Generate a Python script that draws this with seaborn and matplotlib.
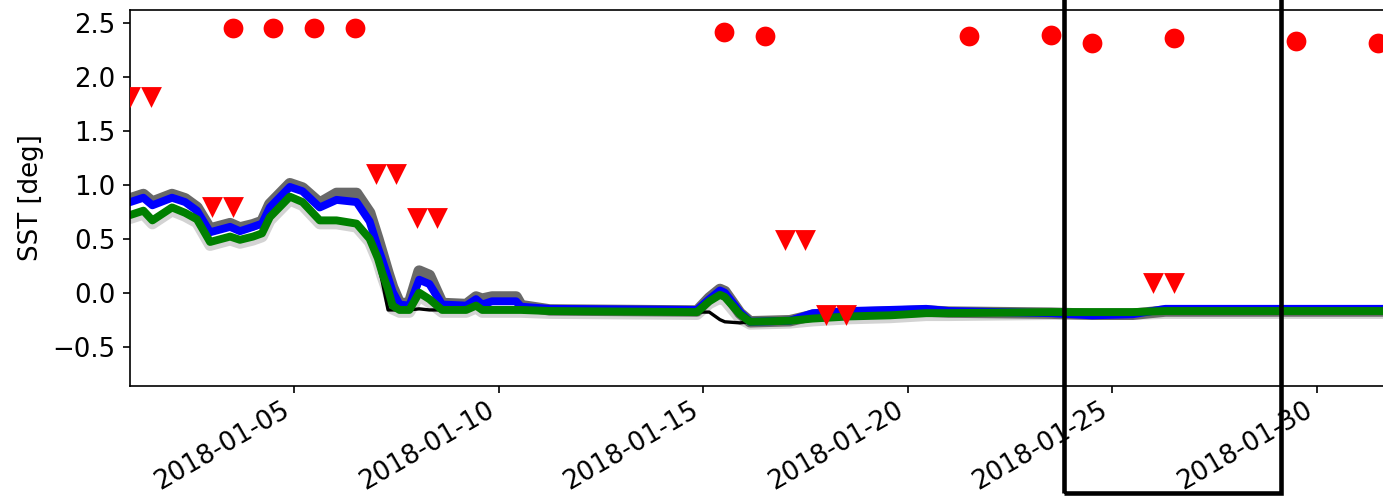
import pandas as pd
import matplotlib
matplotlib.use("Agg")
import matplotlib.pyplot as plt
import matplotlib.dates as mdates
from matplotlib.patches import Rectangle
import seaborn as sns

# Style
sns.set_style("ticks", {"axes.edgecolor": "black", "text.color": "black",
                        "xtick.color": "black", "ytick.color": "black",
                        "axes.labelcolor": "black"})
plt.rcParams['font.family'] = ['DejaVu Sans']
plt.rcParams['font.size'] = 12.5

start = pd.Timestamp("2018-01-01")

# =============================
# Data
# =============================

# time of each sample, days since 2018-01-01
t_days = [0.00, 0.32, 0.54, 1.02, 1.34, 1.63, 1.95, 2.44, 2.68, 3.00,
          3.22, 3.41, 3.90, 4.21, 4.63, 5.04, 5.53, 5.85, 6.05, 6.16,
          6.30, 6.41, 6.58, 6.82, 7.06, 7.31, 7.62, 8.21, 8.45, 8.60,
          8.84, 9.43, 9.55, 10.25, 13.85, 14.15, 14.41, 14.53, 14.90, 15.15,
          16.12, 16.68, 17.59, 18.57, 19.45, 20.00, 22.50, 23.50, 24.50, 25.30,
          31.50]

# ensemble upper envelope (dark grey)
sst_ens_hi = [0.87, 0.91, 0.84, 0.91, 0.87, 0.79, 0.59, 0.64, 0.60, 0.63,
              0.66, 0.82, 1.01, 0.97, 0.83, 0.92, 0.92, 0.74, 0.50, 0.36,
              0.18, 0.05, -0.10, -0.10, 0.20, 0.16, -0.10, -0.11, -0.04, -0.06,
              -0.04, -0.04, -0.12, -0.16, -0.17, -0.05, 0.03, 0.01, -0.19, -0.27,
              -0.26, -0.21, -0.19, -0.18, -0.17, -0.18, -0.19, -0.20, -0.20, -0.17,
              -0.17]

# ensemble lower envelope (light grey)
sst_ens_lo = [0.69, 0.73, 0.64, 0.76, 0.71, 0.65, 0.44, 0.49, 0.46, 0.49,
              0.52, 0.67, 0.86, 0.81, 0.64, 0.64, 0.61, 0.47, 0.29, 0.15,
              0.00, -0.15, -0.18, -0.18, -0.03, -0.09, -0.18, -0.18, -0.14, -0.18,
              -0.18, -0.18, -0.18, -0.19, -0.20, -0.10, -0.05, -0.07, -0.24, -0.29,
              -0.28, -0.26, -0.24, -0.23, -0.21, -0.21, -0.20, -0.20, -0.20, -0.19,
              -0.19]

# reference series (black)
sst_ref = [0.71, 0.75, 0.66, 0.78, 0.73, 0.67, 0.46, 0.51, 0.48, 0.51,
           0.54, 0.69, 0.88, 0.83, 0.66, 0.66, 0.63, 0.50, 0.28, 0.10,
           -0.16, -0.16, -0.16, -0.16, -0.15, -0.16, -0.16, -0.16, -0.13, -0.16,
           -0.16, -0.16, -0.16, -0.17, -0.18, -0.18, -0.25, -0.27, -0.28, -0.27,
           -0.26, -0.24, -0.22, -0.21, -0.19, -0.19, -0.18, -0.18, -0.18, -0.17,
           -0.17]

# model A (blue)
sst_model_a = [0.84, 0.88, 0.81, 0.88, 0.84, 0.76, 0.56, 0.61, 0.57, 0.61,
               0.64, 0.79, 0.98, 0.94, 0.79, 0.86, 0.84, 0.66, 0.42, 0.30,
               0.14, 0.01, -0.11, -0.12, 0.12, 0.08, -0.11, -0.12, -0.06, -0.11,
               -0.08, -0.08, -0.13, -0.15, -0.16, -0.06, 0.02, 0.00, -0.18, -0.27,
               -0.26, -0.19, -0.17, -0.16, -0.15, -0.17, -0.19, -0.21, -0.20, -0.15,
               -0.15]

# model B (green)
sst_model_b = [0.72, 0.76, 0.67, 0.79, 0.74, 0.68, 0.47, 0.52, 0.49, 0.52,
               0.55, 0.70, 0.89, 0.84, 0.67, 0.67, 0.64, 0.50, 0.32, 0.18,
               0.03, -0.12, -0.16, -0.16, 0.00, -0.06, -0.16, -0.16, -0.12, -0.16,
               -0.16, -0.16, -0.16, -0.17, -0.18, -0.08, -0.02, -0.04, -0.20, -0.27,
               -0.26, -0.24, -0.22, -0.21, -0.19, -0.19, -0.18, -0.18, -0.18, -0.17,
               -0.17]

# red circles
warm_days = [2.5, 3.5, 4.5, 5.5, 14.5, 15.5, 20.5, 22.5, 23.5, 25.5, 28.5, 30.5]
warm_vals = [2.45, 2.45, 2.45, 2.45, 2.42, 2.38, 2.38, 2.39, 2.31, 2.36, 2.33, 2.31]

# red down triangles
flag_days = [0.0, 0.5, 2.0, 2.5, 6.0, 6.5, 7.0, 7.5, 16.0, 16.5, 17.0, 17.5, 25.0, 25.5]
flag_vals = [1.81, 1.81, 0.79, 0.79, 1.10, 1.10, 0.69, 0.69, 0.49, 0.49,
             -0.21, -0.21, 0.09, 0.09]

# highlighted window
win_start = pd.Timestamp("2018-01-23 19:30")
win_end = pd.Timestamp("2018-01-29 03:00")


def to_time(days):
    return start + pd.to_timedelta(pd.Series(days), unit="D")


t = to_time(t_days)

# =============================
# Plot
# =============================
fig = plt.figure(figsize=(1383 / 150, 496 / 150), dpi=150)
ax = fig.add_axes([0.0942, 0.2218, 0.9172, 0.758])

sns.lineplot(x=t, y=sst_ens_lo, color="lightgray", linewidth=5.5, ax=ax)
sns.lineplot(x=t, y=sst_ens_hi, color="dimgray", linewidth=5.5, ax=ax)
sns.lineplot(x=t, y=sst_ref, color="black", linewidth=1.6, ax=ax)
sns.lineplot(x=t, y=sst_model_a, color="blue", linewidth=3.8, ax=ax)
sns.lineplot(x=t, y=sst_model_b, color="green", linewidth=3.8, ax=ax)

sns.scatterplot(x=to_time(warm_days), y=warm_vals, color="red", marker="o",
                s=90, linewidth=0, ax=ax, zorder=5)
sns.scatterplot(x=to_time(flag_days), y=flag_vals, color="red", marker="v",
                s=100, linewidth=0, ax=ax, zorder=5)

x0 = mdates.date2num(win_start)
x1 = mdates.date2num(win_end)
ax.add_patch(Rectangle((x0, -0.285), x1 - x0, 1.4, transform=ax.get_xaxis_transform(),
                       fill=False, edgecolor="black", linewidth=2.2, clip_on=False, zorder=6))

ax.set_xlim(pd.Timestamp("2018-01-01"), pd.Timestamp("2018-02-01"))
ax.set_ylim(-0.865, 2.62)
ax.set_yticks([-0.5, 0.0, 0.5, 1.0, 1.5, 2.0, 2.5])
ax.xaxis.set_major_locator(mdates.DayLocator(bymonthday=[5, 10, 15, 20, 25, 30]))
ax.xaxis.set_major_formatter(mdates.DateFormatter("%Y-%m-%d"))
ax.tick_params(axis="x", pad=2)
plt.setp(ax.get_xticklabels(), rotation=30, ha="right")
ax.set_xlabel("")
ax.set_ylabel("SST [deg]")

fig.savefig("out.png", dpi=150)
plt.close(fig)
